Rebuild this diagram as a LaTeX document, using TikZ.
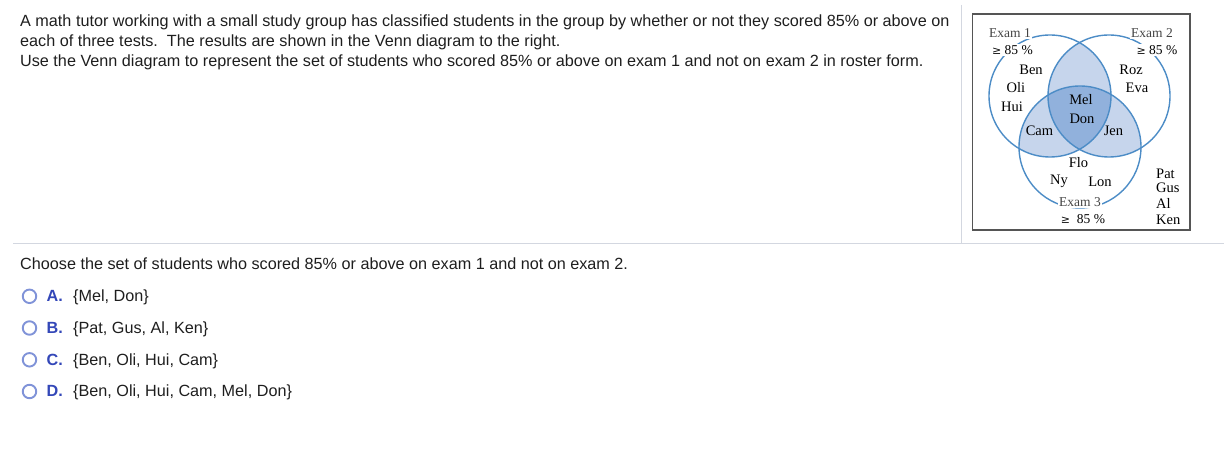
\documentclass[tikz,border=0pt]{standalone}
\usepackage{fontspec}
\setmainfont{Liberation Serif}
\newfontfamily\arialfont{Liberation Sans}
\newfontfamily\symfont{DejaVu Serif}
\usepackage{xcolor}
\definecolor{textgray}{HTML}{1E1E1E}
\definecolor{labelgray}{HTML}{444444}
\definecolor{rulegray}{HTML}{D3D7E0}
\definecolor{boxgray}{HTML}{555555}
\definecolor{vennline}{HTML}{4C8CC6}
\definecolor{vennlight}{HTML}{C6D5EC}
\definecolor{venndark}{HTML}{91B1DC}
\definecolor{radiocol}{HTML}{8093D8}
\definecolor{lettercol}{HTML}{3347B8}
\newcommand{\atleast}{{\symfont\fontsize{11}{12}\selectfont ≥}}

\begin{document}
\begin{tikzpicture}[x=1pt,y=-1pt,
  qtext/.style={anchor=base west,inner sep=0pt,text=textgray,
    font=\arialfont\fontsize{16.2}{19}\selectfont},
  choiceletter/.style={anchor=base west,inner sep=0pt,text=lettercol,
    font=\arialfont\bfseries\fontsize{16.2}{19}\selectfont},
  radio/.style={circle,draw=radiocol,line width=1.9pt,minimum size=13.5pt,inner sep=0pt},
  pupil/.style={inner sep=0pt,font=\fontsize{14.5}{16}\selectfont},
  examlabel/.style={fill=white,inner sep=1pt,text=labelgray,font=\fontsize{13.5}{14}\selectfont},
  vennring/.style={draw=vennline,line width=1.4pt}]
\useasboundingbox (0,0) rectangle (1224,470);

% question text
\node[qtext] (q1) at (20,26.5) {A math tutor working with a small study group has classified students in the group by whether or not they scored 85\% or above on};
\node[qtext] (q2) at (20,46.5) {each of three tests.\ \ The results are shown in the Venn diagram to the right.};
\node[qtext] (q3) at (20,66.5) {Use the Venn diagram to represent the set of students who scored 85\% or above on exam 1 and not on exam 2 in roster form.};

\draw[rulegray,line width=1pt] (961,5) -- (961,244);
\draw[rulegray,line width=1pt] (13,244) -- (1224,244);

% venn diagram
\coordinate (c1) at (1050,96);
\coordinate (c2) at (1109,96);
\coordinate (c3) at (1080,147);
\begin{scope}
\clip (c1) circle[radius=61];
\fill[vennlight] (c2) circle[radius=61];
\fill[vennlight] (c3) circle[radius=61];
\end{scope}
\begin{scope}
\clip (c2) circle[radius=61];
\fill[vennlight] (c3) circle[radius=61];
\end{scope}
\begin{scope}
\clip (c1) circle[radius=61];
\clip (c2) circle[radius=61];
\fill[venndark] (c3) circle[radius=61];
\end{scope}
\draw[vennring] (c1) circle[radius=61];
\draw[vennring] (c2) circle[radius=61];
\draw[vennring] (c3) circle[radius=61];
\draw[boxgray,line width=1.5pt] (972.5,14) rectangle (1190,230);

\node[examlabel] (ex1) at (1010,33) {Exam 1};
\node[examlabel,text=black] (ex1b) at (1012.5,50) {\atleast\ 85 \%};
\node[examlabel] (ex2) at (1152,33) {Exam 2};
\node[examlabel,text=black] (ex2b) at (1157,50) {\atleast\ 85 \%};
\node[examlabel] (ex3) at (1080,202) {Exam 3};
\node[examlabel,text=black] (ex3b) at (1083,219) {\atleast\ \ 85 \%};

\node[pupil] (ben) at (1031,69.5) {Ben};
\node[pupil] (oli) at (1016,87.5) {Oli};
\node[pupil] (hui) at (1012,106.5) {Hui};
\node[pupil] (roz) at (1131,69.5) {Roz};
\node[pupil] (eva) at (1137,87.5) {Eva};
\node[pupil] (mel) at (1081,100) {Mel};
\node[pupil] (don) at (1082,119) {Don};
\node[pupil] (cam) at (1039.5,131) {Cam};
\node[pupil] (jen) at (1113.5,131) {Jen};
\node[pupil] (flo) at (1078.5,162.5) {Flo};
\node[pupil] (ny) at (1059,181.5) {Ny};
\node[pupil] (lon) at (1100,181.5) {Lon};
\node[pupil,anchor=west] (pat) at (1156,174) {Pat};
\node[pupil,anchor=west] (gus) at (1156,187.5) {Gus};
\node[pupil,anchor=west] (al) at (1156,203.5) {Al};
\node[pupil,anchor=west] (ken) at (1156,219.5) {Ken};

% answer choices
\node[qtext] (ask) at (20,269.5) {Choose the set of students who scored 85\% or above on exam 1 and not on exam 2.};

\node[radio] (ra) at (29.5,296.3) {};
\node[choiceletter] (la) at (46.5,301.6) {A.};
\node[qtext] (ta) at (73,301.6) {\{Mel, Don\}};

\node[radio] (rb) at (29.5,328) {};
\node[choiceletter] (lb) at (46.5,333.3) {B.};
\node[qtext] (tb) at (73,333.3) {\{Pat, Gus, Al, Ken\}};

\node[radio] (rc) at (29.5,359.8) {};
\node[choiceletter] (lc) at (46.5,365.1) {C.};
\node[qtext] (tc) at (73,365.1) {\{Ben, Oli, Hui, Cam\}};

\node[radio] (rd) at (29.5,391.5) {};
\node[choiceletter] (ld) at (46.5,396.8) {D.};
\node[qtext] (td) at (73,396.8) {\{Ben, Oli, Hui, Cam, Mel, Don\}};
\end{tikzpicture}
\end{document}
